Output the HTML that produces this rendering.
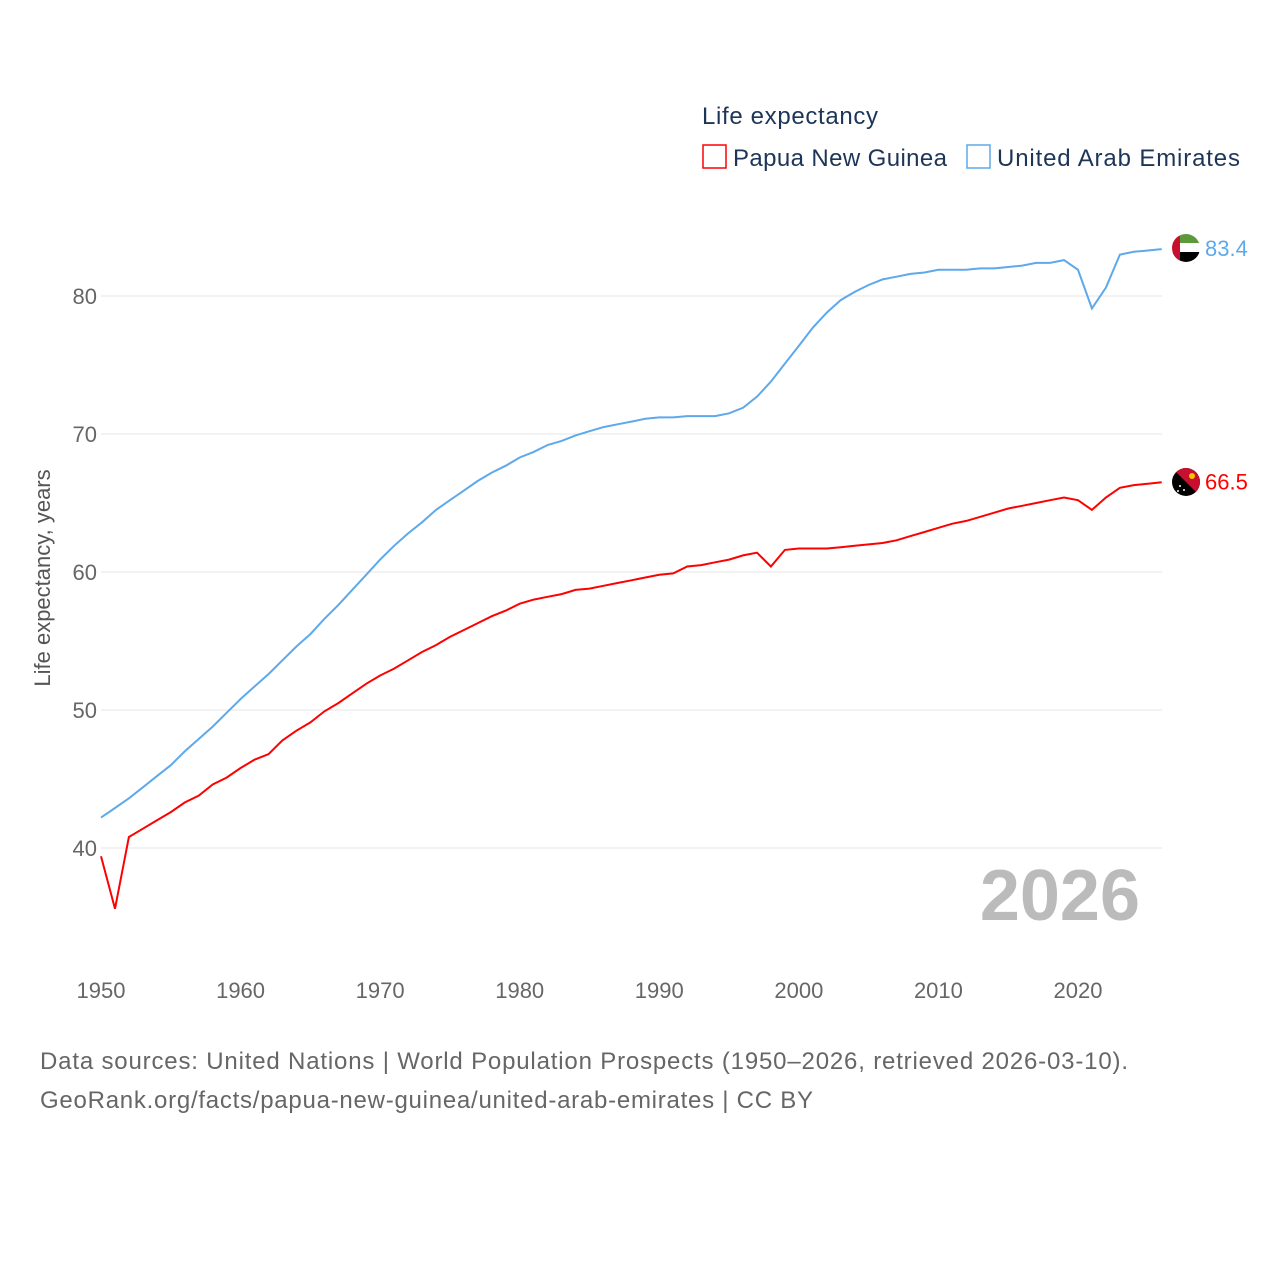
<!DOCTYPE html>
<html><head><meta charset="utf-8"><style>
body{margin:0;background:#fff;font-family:"Liberation Sans",sans-serif;}
</style></head><body>
<svg width="1280" height="1280" xmlns="http://www.w3.org/2000/svg">
<defs>
<clipPath id="cu"><circle cx="1186" cy="248" r="14"/></clipPath>
<clipPath id="cp"><circle cx="1186" cy="482" r="14"/></clipPath>
</defs>
<g id="grid"></g>
<g id="xt"></g>
<text transform="translate(50,578) rotate(-90)" text-anchor="middle" font-size="22" fill="#555">Life expectancy, years</text>
<text x="1140" y="920" text-anchor="end" font-size="72" font-weight="bold" fill="#bbb">2026</text>
<g>
<text x="702" y="124" font-size="24" fill="#1d3557" textLength="176">Life expectancy</text>
<rect x="703" y="145" width="23" height="23" fill="none" stroke="#ff0000" stroke-width="1.5"/>
<text x="733" y="166" font-size="24" fill="#1d3557" textLength="214">Papua New Guinea</text>
<rect x="967" y="145" width="23" height="23" fill="none" stroke="#5da9ea" stroke-width="1.5"/>
<text x="997" y="166" font-size="24" fill="#1d3557" textLength="243">United Arab Emirates</text>
</g>
<g id="series"></g>
<g clip-path="url(#cu)">
<rect x="1172" y="234" width="28" height="10" fill="#5a9a3a"/>
<rect x="1172" y="243" width="28" height="10" fill="#fff"/>
<rect x="1172" y="252" width="28" height="10" fill="#000"/>
<rect x="1172" y="234" width="8" height="28" fill="#c8102e"/>
</g>
<g clip-path="url(#cp)">
<rect x="1172" y="468" width="28" height="28" fill="#000"/>
<polygon points="1172,468 1200,468 1200,496" fill="#c8102e"/>
<circle cx="1192" cy="476" r="3" fill="#f2c500"/>
<circle cx="1180" cy="486" r="1" fill="#fff"/><circle cx="1184" cy="490" r="1" fill="#fff"/><circle cx="1178" cy="491" r="1" fill="#fff"/>
</g>
<text x="40" y="1069" font-size="24" fill="#666" textLength="1088">Data sources: United Nations | World Population Prospects (1950–2026, retrieved 2026-03-10).</text>
<text x="40" y="1108" font-size="24" fill="#666" textLength="773">GeoRank.org/facts/papua-new-guinea/united-arab-emirates | CC BY</text>
</svg>
<script>
const startYear=1950;
const png=[39.4,35.6,40.8,41.4,42.0,42.6,43.3,43.8,44.6,45.1,45.8,46.4,46.8,47.8,48.5,49.1,49.9,50.5,51.2,51.9,52.5,53.0,53.6,54.2,54.7,55.3,55.8,56.3,56.8,57.2,57.7,58.0,58.2,58.4,58.7,58.8,59.0,59.2,59.4,59.6,59.8,59.9,60.4,60.5,60.7,60.9,61.2,61.4,60.4,61.6,61.7,61.7,61.7,61.8,61.9,62.0,62.1,62.3,62.6,62.9,63.2,63.5,63.7,64.0,64.3,64.6,64.8,65.0,65.2,65.4,65.2,64.5,65.4,66.1,66.3,66.4,66.5];
const uae=[42.2,42.9,43.6,44.4,45.2,46.0,47.0,47.9,48.8,49.8,50.8,51.7,52.6,53.6,54.6,55.5,56.6,57.6,58.7,59.8,60.9,61.9,62.8,63.6,64.5,65.2,65.9,66.6,67.2,67.7,68.3,68.7,69.2,69.5,69.9,70.2,70.5,70.7,70.9,71.1,71.2,71.2,71.3,71.3,71.3,71.5,71.9,72.7,73.8,75.1,76.4,77.7,78.8,79.7,80.3,80.8,81.2,81.4,81.6,81.7,81.9,81.9,81.9,82.0,82.0,82.1,82.2,82.4,82.4,82.6,81.9,79.1,80.6,83.0,83.2,83.3,83.4];
const yTicks=[40,50,60,70,80];
const xTicks=[1950,1960,1970,1980,1990,2000,2010,2020];
const X=y=>101+(y-1950)*13.957;
const Y=v=>848-(v-40)*13.8;
const NS="http://www.w3.org/2000/svg";
function mk(t,a,p){const e=document.createElementNS(NS,t);for(const k in a)e.setAttribute(k,a[k]);p.appendChild(e);return e;}
const grid=document.getElementById('grid');
yTicks.forEach(v=>{
 const l=mk('line',{x1:101,x2:1162,y1:Y(v),y2:Y(v),stroke:'#e6e6e6','stroke-width':1},grid);
 
 
 const t=mk('text',{x:97,y:Y(v)+8,'text-anchor':'end','font-size':22,fill:'#666'},grid);t.textContent=v;
 
 
});
const xt=document.getElementById('xt');
xTicks.forEach(v=>{
 const t=mk('text',{x:X(v),y:998,'text-anchor':'middle','font-size':22,fill:'#666'},xt);t.textContent=v;
 
 
});
const s=document.getElementById('series');
function line(arr,col,name){
 const d=arr.map((v,i)=>(i?'L':'M')+X(startYear+i).toFixed(1)+','+Y(v).toFixed(1)).join('');
 const p=mk('path',{d:d,fill:'none',stroke:col,'stroke-width':2},s);
 
 
 const last=arr[arr.length-1];
 const t=mk('text',{x:1205,y:Y(last)+7,'font-size':22,fill:col},s);t.textContent=last.toFixed(1);
 
 
}
line(uae,'#5da9ea','line-uae');
line(png,'#ff0000','line-png');
</script>
</body></html>
